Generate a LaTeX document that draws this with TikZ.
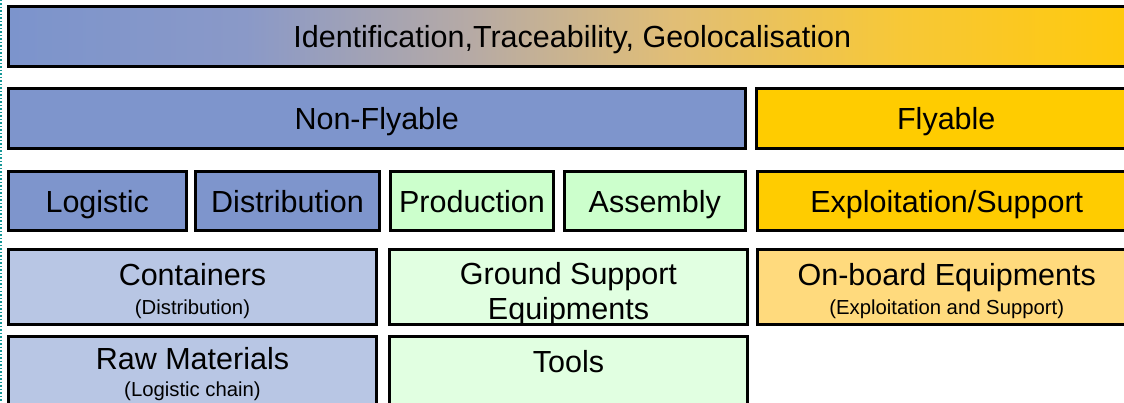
\documentclass[tikz,border=0pt]{standalone}
\usepackage{fontspec}
\setmainfont{Liberation Sans}
\usepackage{tikz}
\usetikzlibrary{
        positioning,
        shapes
    }
\definecolor{nfblue}{RGB}{126,149,204}
\definecolor{nflight}{RGB}{184,198,228}
\definecolor{prodgreen}{RGB}{204,255,204}
\definecolor{prodlight}{RGB}{225,255,225}
\definecolor{flygold}{RGB}{255,204,0}
\definecolor{flylight}{RGB}{255,218,125}
\definecolor{edgeteal}{RGB}{20,150,150}
\pgfdeclarehorizontalshading{identshade}{100bp}{
    rgb(0bp)=(0.486,0.580,0.800);
    rgb(25bp)=(0.486,0.580,0.800);
    rgb(35.5bp)=(0.541,0.600,0.784);
    rgb(45.5bp)=(0.714,0.667,0.647);
    rgb(54.5bp)=(0.882,0.745,0.463);
    rgb(64.5bp)=(0.969,0.784,0.216);
    rgb(75bp)=(1,0.788,0.039);
    rgb(100bp)=(1,0.788,0.039)}
\newcommand{\boxfont}{\fontsize{30.5}{35}\selectfont}
\newcommand{\subfont}{\fontsize{20.3}{24}\selectfont}
\tikzset{blk/.style={draw=black,line width=3pt,outer sep=0pt,inner sep=2pt,align=center,font=\boxfont}}
\tikzset{oneline/.style={text height=28pt,text depth=6pt}}
\tikzset{twoline/.style={text height=59pt,text depth=4pt}}

\begin{document}
\begin{tikzpicture}[x=1pt,y=1pt,node distance=10pt]
                \useasboundingbox (0,0) rectangle (1124,-403);
                \clip (0,0) rectangle (1124,-403);
                \node[blk,oneline,shading=identshade,minimum width=1127.5pt,minimum height=60.5pt,anchor=north west] (ident) at (8.5,-6.5) {Identification,Traceability, Geolocalisation};
                % second row
                \node[blk,oneline,fill=nfblue,minimum width=736.5pt,minimum height=60pt,below=22pt of ident.south west,anchor=north west] (nonfly) {Non-Flyable};
                \node[blk,oneline,fill=flygold,minimum width=379.5pt,minimum height=60pt] (fly) [right=11.5pt of nonfly] {Flyable};
                % third row
                \node[blk,oneline,fill=nfblue,minimum width=177.5pt,minimum height=59.5pt,below=22.5pt of nonfly.south west,anchor=north west] (logi) {Logistic};
                \node[blk,oneline,fill=nfblue,minimum width=184pt,minimum height=59.5pt] (distr) [right=9.5pt of logi] {Distribution};
                \node[blk,oneline,fill=prodgreen,minimum width=163pt,minimum height=59.5pt] (prod) [right=11pt of distr] {Production};
                \node[blk,oneline,fill=prodgreen,minimum width=181.5pt,minimum height=59.5pt] (assem) [right=10.5pt of prod] {Assembly};
                \node[blk,oneline,fill=flygold,minimum width=378.5pt,minimum height=59.5pt] (expl) [right=12pt of assem] {Exploitation/Support};
                % fourth row
                \node[blk,twoline,fill=nflight,minimum width=368pt,minimum height=74pt,below=19pt of logi.south west,anchor=north west] (cont) {Containers\\[-6pt]{\subfont (Distribution)}};
                \node[blk,fill=prodlight,minimum width=358pt,minimum height=74pt,text height=67pt,text depth=2.5pt] (gse) [right=13pt of cont] {Ground Support\\Equipments};
                \node[blk,twoline,fill=flylight,minimum width=378.5pt,minimum height=74pt] (onb) [right=10pt of gse] {On-board Equipments\\[-6pt]{\subfont (Exploitation and Support)}};
                % fifth row
                \node[blk,fill=nflight,minimum width=368pt,minimum height=74pt,text height=50pt,text depth=4.4pt,below=12.5pt of cont.south west,anchor=north west] (raw) {Raw Materials\\[-8.5pt]{\subfont (Logistic chain)}};
                \node[blk,fill=prodlight,minimum width=358pt,minimum height=74pt,text height=22pt,text depth=25pt] (tools) [right=13pt of raw] {Tools};
                \draw[edgeteal,line width=1.5pt,dotted] (1,0) -- (1,-403);
            \end{tikzpicture}
\end{document}
